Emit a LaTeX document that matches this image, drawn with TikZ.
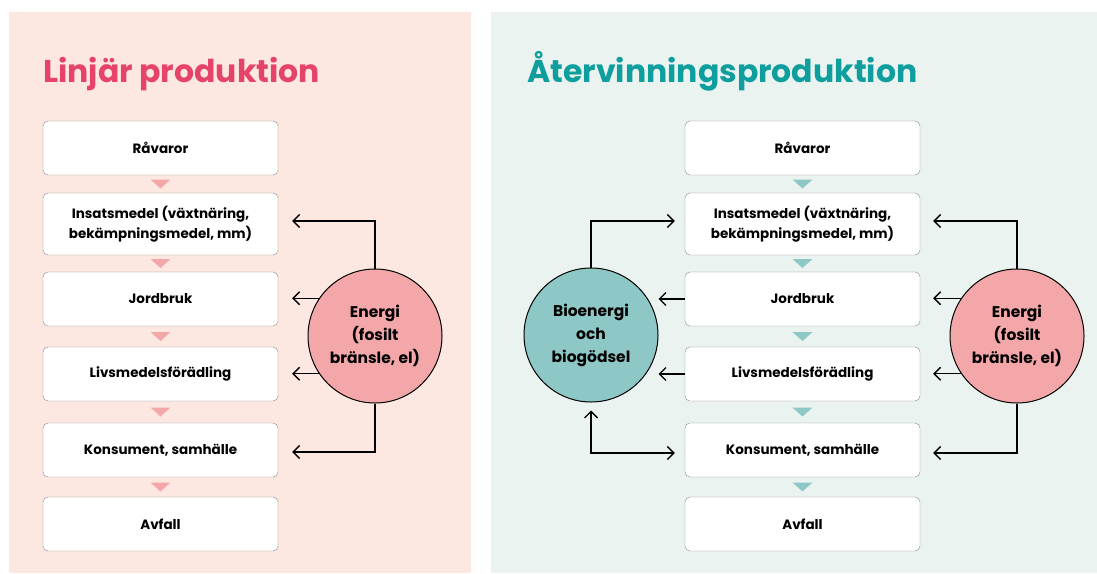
\documentclass[tikz,border=0pt]{standalone}
\usepackage{fontspec}
\setmainfont{Poppins}
\usetikzlibrary{arrows.meta,calc}
\definecolor{peach}{HTML}{FCE8E0}
\definecolor{mint}{HTML}{EAF3EF}
\definecolor{rosered}{HTML}{E6436A}
\definecolor{tealtitle}{HTML}{0E9E9E}
\definecolor{hubpink}{HTML}{F4A7A9}
\definecolor{hubteal}{HTML}{8EC8C6}
\definecolor{boxgray}{HTML}{8A8A8A}
\tikzset{
  >={Straight Barb[length=6.5pt,width=13pt]},
  stepbox/.style={draw=boxgray, fill=white, rounded corners=5pt, minimum width=235pt,
    minimum height=54pt, align=center, font=\bfseries\fontsize{13.5}{20}\selectfont},
  hub/.style={circle, draw=black, line width=1pt, minimum size=134pt, inner sep=0pt,
    align=center, font=\bfseries\fontsize{15.5}{23}\selectfont},
  arr/.style={line width=1.3pt, ->},
  title/.style={anchor=base west, inner sep=0pt, font=\bfseries\fontsize{31.5}{31.5}\selectfont}
}
\begin{document}
\begin{tikzpicture}[x=1pt,y=-1pt]
  \useasboundingbox (0,0) rectangle (1097,573);
  \fill[peach] (9,12) rectangle (471,573);
  \fill[mint] (491,12) rectangle (1097,573);
  \node[title, text=rosered] (titleL) at (43,82) {Linjär produktion};
  \node[title, text=tealtitle] (titleR) at (527,82) {Återvinningsproduktion};

  \foreach \s/\x/\c in {L/160.5/hubpink, R/802.5/hubteal} {
    \node[stepbox] (ra\s) at (\x,148) {Råvaror};
    \node[stepbox, minimum height=62pt] (ins\s) at (\x,224) {Insatsmedel (växtnäring,\\bekämpningsmedel, mm)};
    \node[stepbox] (jb\s) at (\x,299) {Jordbruk};
    \node[stepbox] (liv\s) at (\x,374) {Livsmedelsförädling};
    \node[stepbox] (kon\s) at (\x,450) {Konsument, samhälle};
    \node[stepbox] (avf\s) at (\x,524) {Avfall};
    \foreach \a/\b in {ra/ins, ins/jb, jb/liv, liv/kon, kon/avf}
      \fill[\c] ($(\a\s.south)!0.5!(\b\s.north)$) ++(-10,-4.5) -- ++(20,0) -- ++(-10,9) -- cycle;
  }

  \node[hub, fill=hubpink] (enL) at (375,336) {Energi\\(fosilt\\bränsle, el)};
  \draw[arr] (enL.north) |- ([xshift=14pt,yshift=3pt]insL.east);
  \draw[arr] (enL.146) -- ([xshift=14pt]jbL.east |- enL.146);
  \draw[arr] (enL.214) -- ([xshift=14pt]livL.east |- enL.214);
  \draw[arr] (enL.south) |- ([xshift=14pt,yshift=-2pt]konL.east);

  \node[hub, fill=hubteal] (bio) at (591,335) {Bioenergi\\och\\biogödsel};
  \draw[arr] (bio.north) |- ([xshift=-10pt,yshift=3pt]insR.west);
  \draw[arr] (jbR.west) -- (jbR.west -| bio.east);
  \draw[arr] (livR.west) -- (livR.west -| bio.east);
  \draw[arr, <->] ([yshift=-8pt]bio.south) |- ([xshift=-10pt,yshift=-3pt]konR.west);

  \node[hub, fill=hubpink] (enR) at (1017,336) {Energi\\(fosilt\\bränsle, el)};
  \draw[arr] (enR.north) |- ([xshift=13pt,yshift=3pt]insR.east);
  \draw[arr] (enR.146) -- ([xshift=13pt]jbR.east |- enR.146);
  \draw[arr] (enR.214) -- ([xshift=13pt]livR.east |- enR.214);
  \draw[arr] (enR.south) |- ([xshift=13pt,yshift=-3pt]konR.east);
\end{tikzpicture}
\end{document}
